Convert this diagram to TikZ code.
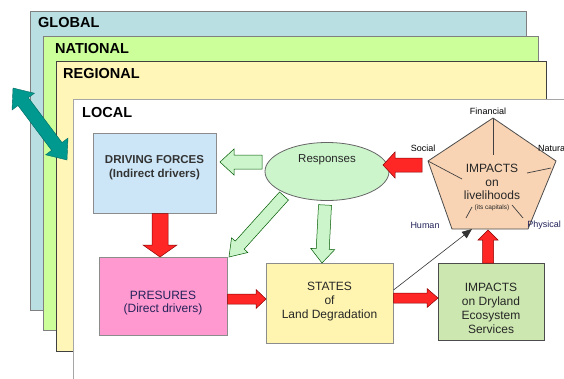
\documentclass[tikz,border=0pt]{standalone}
\usepackage{fontspec}
\setmainfont{Liberation Sans}
\usetikzlibrary{calc,shapes.geometric,arrows.meta}
\definecolor{globc}{HTML}{B9DFE2}
\definecolor{natc}{HTML}{CCFF99}
\definecolor{regc}{HTML}{FFF6B8}
\definecolor{dfc}{HTML}{CCE6F8}
\definecolor{respc}{HTML}{CCF5CC}
\definecolor{prc}{HTML}{FF99D0}
\definecolor{stc}{HTML}{FFF5B0}
\definecolor{imc}{HTML}{CCE8B0}
\definecolor{pentc}{HTML}{F9D4B4}
\definecolor{redc}{HTML}{FF2626}
\definecolor{tealc}{HTML}{00998F}
\definecolor{navyt}{HTML}{23235A}
\newcommand{\blockarr}[6][]{%
  \coordinate (H) at ($(#3)!#6!(#2)$);
  \draw[#1] ($(#2)!#4!90:(#3)$) -- ($(H)!#4!90:(#3)$) -- ($(H)!#5!90:(#3)$) -- (#3)
    -- ($(H)!#5!-90:(#3)$) -- ($(H)!#4!-90:(#3)$) -- ($(#2)!#4!-90:(#3)$) -- cycle;}
\newcommand{\dblarr}[6][]{%
  \coordinate (HA) at ($(#2)!#6!(#3)$);
  \coordinate (HB) at ($(#3)!#6!(#2)$);
  \draw[#1] (#2) -- ($(HA)!#5!90:(#3)$) -- ($(HA)!#4!90:(#3)$) -- ($(HB)!#4!90:(#3)$)
    -- ($(HB)!#5!90:(#3)$) -- (#3) -- ($(HB)!#5!-90:(#3)$) -- ($(HB)!#4!-90:(#3)$)
    -- ($(HA)!#4!-90:(#3)$) -- ($(HA)!#5!-90:(#3)$) -- cycle;}
\begin{document}
\begin{tikzpicture}[x=1pt,y=-1pt,
  layer/.style={draw=black!50, line width=0.8pt},
  laylab/.style={anchor=west, inner sep=0pt, font=\fontsize{14.5}{16}\selectfont\bfseries},
  box/.style={draw=black!45, line width=0.8pt, rectangle, inner sep=0pt},
  txt/.style={align=center, inner sep=0pt, text=black!85, font=\fontsize{12}{13.8}\selectfont},
  small/.style={inner sep=0pt, font=\fontsize{9}{10}\selectfont},
  greenarr/.style={fill=respc, draw=green!35!black, line width=0.5pt},
  redarr/.style={fill=redc, draw=red!55!black, line width=0.5pt},
  tealarr/.style={fill=tealc, draw=tealc!70!black, line width=0.4pt},
  spoke/.style={draw=black!75, line width=0.7pt}]
\useasboundingbox (0,0) rectangle (564,378);
\fill[white] (0,0) rectangle (564,378);
% layers
\draw[layer, fill=globc] (30,11) rectangle (526,310);
\draw[layer, fill=natc] (43,36) rectangle (538,330);
\draw[layer, fill=regc, draw=black!75] (56,61) rectangle (546,351);
\draw[draw=black!35, line width=1pt, fill=white] (73,99) rectangle (620,430);
\node[laylab] (lg) at (38,23) {GLOBAL};
\node[laylab] (ln) at (55,49) {NATIONAL};
\node[laylab] (lr) at (63,74) {REGIONAL};
\node[laylab] (ll) at (82,113) {LOCAL};
% teal double arrow
\coordinate (ta) at (13,88);
\coordinate (tb) at (67,160);
\dblarr[tealarr]{ta}{tb}{6.5pt}{14pt}{17pt}
% boxes
\node[box, fill=dfc, minimum width=123pt, minimum height=80pt] (df) at (154.5,173) {};
\node[box, fill=prc, minimum width=128pt, minimum height=78pt] (pr) at (163,296) {};
\node[box, fill=stc, minimum width=127pt, minimum height=80pt] (st) at (329.5,303) {};
\node[box, fill=imc, draw=black!70, minimum width=106pt, minimum height=77pt] (im) at (491,301.5) {};
\node[ellipse, draw=black!60, line width=0.8pt, fill=respc, minimum width=124pt, minimum height=58pt, inner sep=0pt] (resp) at (327,171.5) {};
\node[txt, font=\fontsize{11.5}{13.5}\selectfont\bfseries, text=black!80] (dft) at (154.5,167.5) {DRIVING FORCES\\(Indirect drivers)};
\node[txt, text=navyt] (prt) at (163,303) {PRESURES\\(Direct drivers)};
\node[txt] (stt) at (329.5,301.5) {STATES\\of\\Land Degradation};
\node[txt] (imt) at (491,308.5) {IMPACTS\\on Dryland\\Ecosystem\\Services};
\node[txt, font=\fontsize{11.5}{13}\selectfont] (respt) at (327,160) {Responses};
% pentagon
\coordinate (p1) at (493,118);
\coordinate (p2) at (556,161);
\coordinate (p3) at (528,229);
\coordinate (p4) at (452,229);
\coordinate (p5) at (428,161);
\draw[fill=pentc, draw=black!70, line width=0.8pt] (p1) -- (p2) -- (p3) -- (p4) -- (p5) -- cycle;
\draw[spoke] (p1) -- (493,155);
\draw[spoke] (p5) -- (462,179);
\draw[spoke] (527,173) -- (551,168);
\draw[spoke] (466,218) -- (472,207);
\draw[spoke] (512,205) -- (523,218);
\node[txt] (pt) at (492,182) {IMPACTS\\on\\livelihoods};
\node[inner sep=0pt, font=\fontsize{6.5}{7}\selectfont, text=black!85] (ptc) at (492,207.5) {(its capitals)};
\node[small] (lfin) at (488,111) {Financial};
\node[small] (lsoc) at (423,148) {Social};
\node[small, anchor=west] (lnat) at (538,148) {Natural};
\node[small, text=navyt] (lhum) at (425,225) {Human};
\node[small, text=navyt] (lphy) at (544,225) {Physical};
% green arrows
\coordinate (g1a) at (262,162); \coordinate (g1b) at (220,162);
\blockarr[greenarr]{g1a}{g1b}{7pt}{13pt}{14pt}
\coordinate (g2a) at (284,196); \coordinate (g2b) at (229,257);
\blockarr[greenarr]{g2a}{g2b}{6pt}{11pt}{16pt}
\coordinate (g3a) at (325,205); \coordinate (g3b) at (322,263);
\blockarr[greenarr]{g3a}{g3b}{6.5pt}{12pt}{14pt}
% red arrows
\coordinate (r1a) at (160,213.5); \coordinate (r1b) at (160,257);
\blockarr[redarr]{r1a}{r1b}{8pt}{17pt}{12pt}
\coordinate (r2a) at (227.5,299); \coordinate (r2b) at (266,299);
\blockarr[redarr]{r2a}{r2b}{5pt}{9.5pt}{10pt}
\coordinate (r3a) at (393.5,298); \coordinate (r3b) at (438,298);
\blockarr[redarr]{r3a}{r3b}{5pt}{9.5pt}{11pt}
\coordinate (r4a) at (488,263); \coordinate (r4b) at (488,230);
\blockarr[redarr]{r4a}{r4b}{5.5pt}{10pt}{10pt}
\coordinate (r5a) at (422,165); \coordinate (r5b) at (383,165);
\blockarr[redarr]{r5a}{r5b}{7pt}{13pt}{12pt}
% thin arrow
\coordinate (ka) at (393.5,290);
\coordinate (kb) at (472,229);
\draw[black!80, line width=0.6pt, -{Triangle[length=10pt,width=8pt]}] (ka) -- (kb);
\end{tikzpicture}
\end{document}
